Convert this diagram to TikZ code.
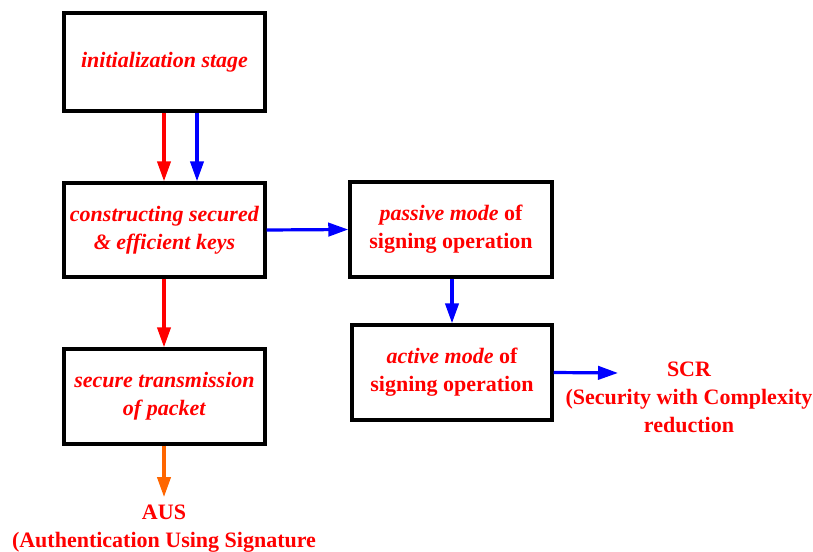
\documentclass[tikz,border=0pt]{standalone}
\usepackage{fontspec}
\setmainfont{Liberation Serif}
\usetikzlibrary{arrows.meta, positioning}

\begin{document}
\begin{tikzpicture}[x=0.75pt,y=-0.75pt,
    block/.style={draw, line width=2.6pt, align=center, text=red, font=\fontsize{16.5}{21}\selectfont\bfseries, inner sep=2pt},
    label/.style={align=center, text=red, font=\fontsize{16.5}{21}\selectfont\bfseries, inner sep=0pt},
    flow/.style={line width=2.4pt, -{Triangle[length=15pt,width=10pt]}}]
      \useasboundingbox (0,0) rectangle (813,552);
      \node[block, minimum width=150.75pt, minimum height=73.5pt] (init) at (164.5,62) {\textit{initialization stage}};
      \node[block, minimum width=150.75pt, minimum height=70.5pt] (keys) at (164.5,230) {\textit{constructing secured}\\\textit{\& efficient keys}};
      \node[block, minimum width=150.75pt, minimum height=71.25pt] (trans) at (164.5,396.5) {\textit{secure transmission}\\\textit{of packet}};
      \node[block, minimum width=151.5pt, minimum height=71.25pt] (passive) at (451,229.5) {\textit{passive mode} of\\signing operation};
      \node[block, minimum width=150pt, minimum height=71.25pt] (active) at (452,372.5) {\textit{active mode} of\\signing operation};
      \node[label] (scr) at (689,397) {SCR\\(Security with Complexity\\reduction};
      \node[label, anchor=north] (aus) at (164,505) {AUS\\(Authentication Using Signature};
      \coordinate (scrin) at (618,373);
      \draw[flow, red] (init.south -| 164,0) -- (keys.north -| 164,0);
      \draw[flow, blue] (init.south -| 197,0) -- (keys.north -| 197,0);
      \draw[flow, red] (keys.south -| 164,0) -- (trans.north -| 164,0);
      \draw[flow, blue] (keys.east) -- (passive.west);
      \draw[flow, blue] (passive.south -| 452,0) -- (active.north -| 452,0);
      \draw[flow, blue] (active.east) -- (scrin);
      \draw[flow, color={rgb,255:red,255;green,102;blue,0}] (trans.south -| 164,0) -- ([yshift=6]aus.north);
    \end{tikzpicture}
\end{document}
